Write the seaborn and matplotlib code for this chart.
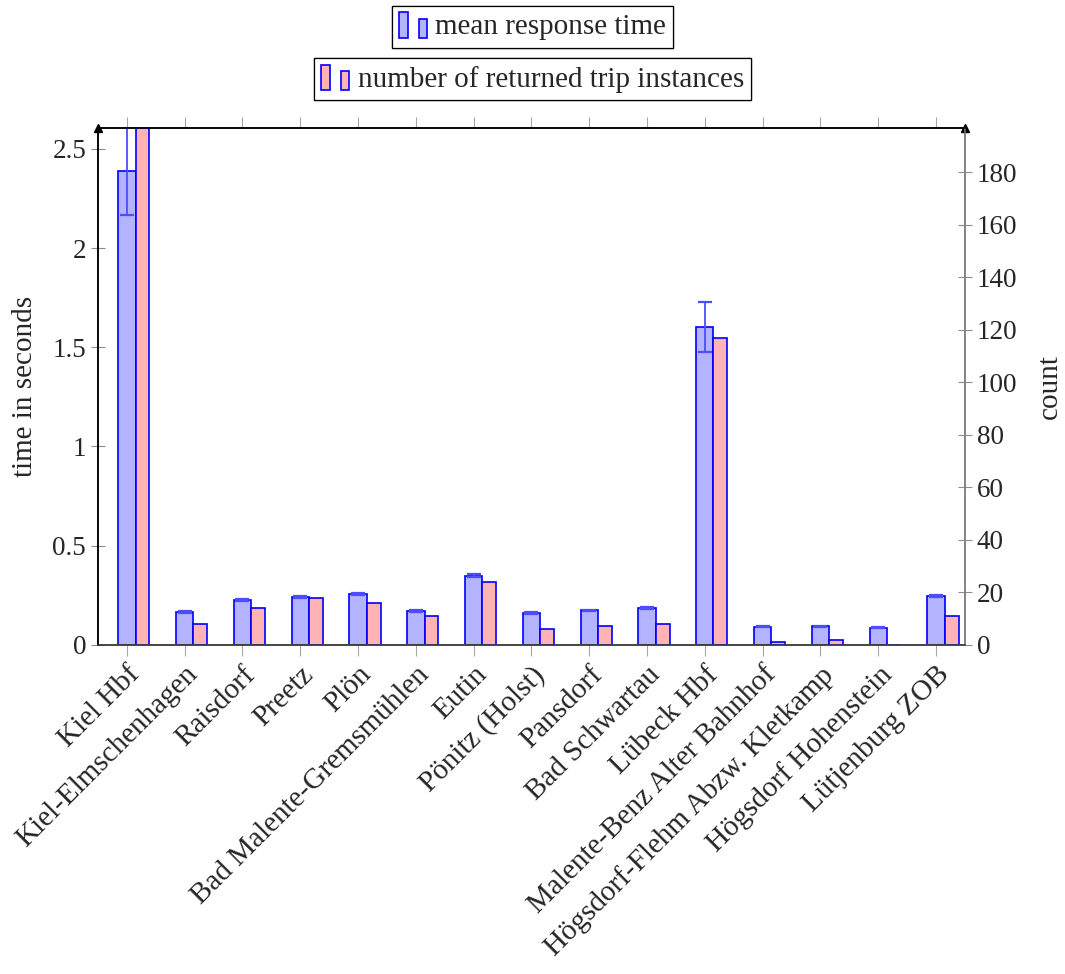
import numpy as np
import matplotlib
matplotlib.use("Agg")
import matplotlib.pyplot as plt
import seaborn as sns
from matplotlib.patches import Patch, Rectangle
from matplotlib.legend_handler import HandlerBase

# data
stations = [
    "Kiel Hbf", "Kiel-Elmschenhagen", "Raisdorf", "Preetz", "Plön",
    "Bad Malente-Gremsmühlen", "Eutin", "Pönitz (Holst)", "Pansdorf",
    "Bad Schwartau", "Lübeck Hbf", "Malente-Benz Alter Bahnhof",
    "Högsdorf-Flehm Abzw. Kletkamp", "Högsdorf Hohenstein", "Lütjenburg ZOB",
]
mean_time = [2.39, 0.165, 0.225, 0.242, 0.257, 0.170, 0.348, 0.160, 0.173,
             0.185, 1.603, 0.092, 0.094, 0.087, 0.245]
time_err = [0.222, 0.004, 0.004, 0.005, 0.005, 0.003, 0.007, 0.003, 0.003,
            0.003, 0.125, 0.003, 0.003, 0.003, 0.005]
trip_count = [197, 8, 14, 18, 16, 11, 24, 6, 7, 8, 117, 1, 2, 0, 11]

blue_fill = (0.70, 0.70, 1.0)
red_fill = (1.0, 0.70, 0.70)


class TwoBars(HandlerBase):
    # pgfplots-like ybar legend symbol: a tall bar and a shorter one
    def create_artists(self, legend, orig_handle, xdescent, ydescent,
                       width, height, fontsize, trans):
        fc = orig_handle.get_facecolor()
        x0, y0 = -xdescent, -ydescent - 0.1 * height
        r1 = Rectangle((x0, y0), width * 0.32, height * 1.15, facecolor=fc,
                       edgecolor="blue", linewidth=1.2, transform=trans)
        r2 = Rectangle((x0 + width * 0.68, y0), width * 0.28, height * 0.85,
                       facecolor=fc, edgecolor="blue", linewidth=1.2,
                       transform=trans)
        return [r1, r2]


sns.set_style("ticks")
plt.rcParams['font.family'] = ['Liberation Serif', 'DejaVu Serif']
plt.rcParams['font.size'] = 19.5

pos = np.arange(len(stations))

fig = plt.figure(figsize=(10.65, 9.74), dpi=100)
ax = fig.add_axes([0.092, 0.338, 0.814, 0.531])
ax2 = ax.twinx()

sns.barplot(x=pos, y=mean_time, native_scale=True, width=0.30,
            color=blue_fill, saturation=1, edgecolor="blue", linewidth=1.2,
            errorbar=None, ax=ax)
ax.errorbar(pos, mean_time, yerr=time_err, fmt="none", ecolor=(0.3, 0.3, 1.0),
            elinewidth=1.3, capsize=5, capthick=1.6, zorder=5)

sns.barplot(x=pos + 0.27, y=trip_count, native_scale=True, width=0.24,
            color=red_fill, saturation=1, edgecolor="blue", linewidth=1.2,
            errorbar=None, ax=ax2)

for a in (ax, ax2):
    a.set_xlim(-0.5, len(stations) - 0.5)
    a.set_xlabel("")

ax.set_ylim(0, mean_time[0] + time_err[0] - 0.005)
ax2.set_ylim(0, 197)
ax.set_yticks([0, 0.5, 1, 1.5, 2, 2.5])
ax.set_yticklabels(["0", "0.5", "1", "1.5", "2", "2.5"])
ax2.set_yticks(range(0, 181, 20))

ax.set_xticks(pos)
ax.set_xticklabels(stations, rotation=45, ha="right", rotation_mode="anchor",
                   fontsize=21)
ax2.set_xticks(pos)

ax.set_ylabel("time in seconds", labelpad=10, fontsize=21)
ax2.set_ylabel("count", labelpad=14, fontsize=21)

ax.tick_params(axis="y", direction="inout", length=10, color="0.55")
ax2.tick_params(axis="y", direction="inout", length=10, color="0.55")
ax.tick_params(axis="x", direction="out", length=8, color="0.65", pad=4,
               top=True)
ax2.tick_params(axis="x", direction="in", length=8, color="0.65", top=True,
                bottom=False, labelbottom=False)

for a in (ax, ax2):
    a.spines["top"].set_visible(True)
    a.spines["top"].set_color("black")
    a.spines["left"].set_color("black")
    a.spines["right"].set_color("0.5")
    a.spines["bottom"].set_color("0.25")
    a.spines["right"].set_visible(True)
    for s in a.spines.values():
        s.set_linewidth(1.1)

# arrow heads on the y axes
ax.plot([0], [1], marker="^", color="black", markersize=6,
        transform=ax.transAxes, clip_on=False, zorder=10)
ax.plot([1], [1], marker="^", color="black", markersize=6,
        transform=ax.transAxes, clip_on=False, zorder=10)

# legends, one box per series
for fill, label, yy in [(blue_fill, "mean response time", 0.997),
                        (red_fill, "number of returned trip instances", 0.943)]:
    leg = fig.legend([Patch(facecolor=fill)], [label], loc="upper center",
                     bbox_to_anchor=(0.5, yy), fancybox=False,
                     edgecolor="black", framealpha=1, fontsize=21,
                     handler_map={Patch: TwoBars()},
                     handlelength=1.0, handleheight=0.8, handletextpad=0.25,
                     borderpad=0.25, borderaxespad=0.1)
    leg.get_frame().set_linewidth(0.9)
    fig.add_artist(leg)

fig.savefig("out.png", dpi=100)
